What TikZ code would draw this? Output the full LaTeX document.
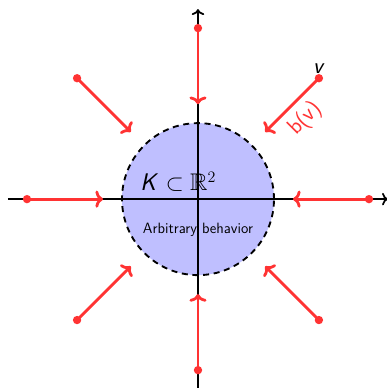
\documentclass[tikz,border=0pt]{standalone}
\usepackage{amssymb}
\usetikzlibrary{arrows.meta,positioning}
\definecolor{flowRed}{HTML}{FF3333}
\definecolor{regionBlue}{HTML}{BFBFFF}
\tikzset{
  axis line/.style={
    ->,
    draw=black,
    line width=1.3pt
  },
  region/.style={
    circle,
    draw=black,
    dash pattern=on 4.5pt off 3.5pt,
    fill=regionBlue,
    line width=1.4pt,
    minimum size=4cm,
    inner sep=0pt
  },
  start dot/.style={
    circle,
    fill=flowRed,
    minimum size=2.2mm,
    inner sep=0pt
  },
  flow edge/.style={
    -{To[length=2mm,width=4.5mm]},
    draw=flowRed,
    line width=2.1pt
  }
}
\begin{document}
\begin{tikzpicture}[font=\sffamily]
  \useasboundingbox (-5.21,-4.97) rectangle (4.97,5.24);

  \node[region] (K) at (0,0) {};
  \node[font=\sffamily\fontsize{18}{20}\selectfont] (K-label) at (-0.52,0.45)
    {\textit{K} $\subset\mathbb{R}^2$};
  \node[font=\sffamily\fontsize{11.2}{13}\selectfont] (behavior) at (0,-0.82) {Arbitrary behavior};

  \draw[axis line] (-5,0) coordinate (x-start) -- (5,0) coordinate (x-end);
  \draw[axis line] (0,-5) coordinate (y-start) -- (0,5) coordinate (y-end);

  % starting points
  \node[start dot] (n) at (90:4.5) {};
  \node[start dot] (ne) at (45:4.5) {};
  \node[start dot] (e) at (0:4.5) {};
  \node[start dot] (se) at (-45:4.5) {};
  \node[start dot] (s) at (-90:4.5) {};
  \node[start dot] (sw) at (-135:4.5) {};
  \node[start dot] (w) at (180:4.5) {};
  \node[start dot] (nw) at (135:4.5) {};

  % ends of the arrows
  \coordinate (n-end) at (90:2.5);
  \coordinate (ne-end) at (45:2.5);
  \coordinate (e-end) at (0:2.5);
  \coordinate (se-end) at (-45:2.5);
  \coordinate (s-end) at (-90:2.5);
  \coordinate (sw-end) at (-135:2.5);
  \coordinate (w-end) at (180:2.5);
  \coordinate (nw-end) at (135:2.5);

  \draw[flow edge] (n.center) -- (n-end);
  \draw[flow edge] (ne.center) -- node[midway,sloped,below=0.5mm,text=flowRed,font=\sffamily\fontsize{17}{19}\selectfont] {b(v)} (ne-end);
  \draw[flow edge] (e.center) -- (e-end);
  \draw[flow edge] (se.center) -- (se-end);
  \draw[flow edge] (s.center) -- (s-end);
  \draw[flow edge] (sw.center) -- (sw-end);
  \draw[flow edge] (w.center) -- (w-end);
  \draw[flow edge] (nw.center) -- (nw-end);

  \node[font=\sffamily\fontsize{17}{19}\selectfont,above=0mm of ne.center] (v-label) {\textit{v}};
\end{tikzpicture}
\end{document}
